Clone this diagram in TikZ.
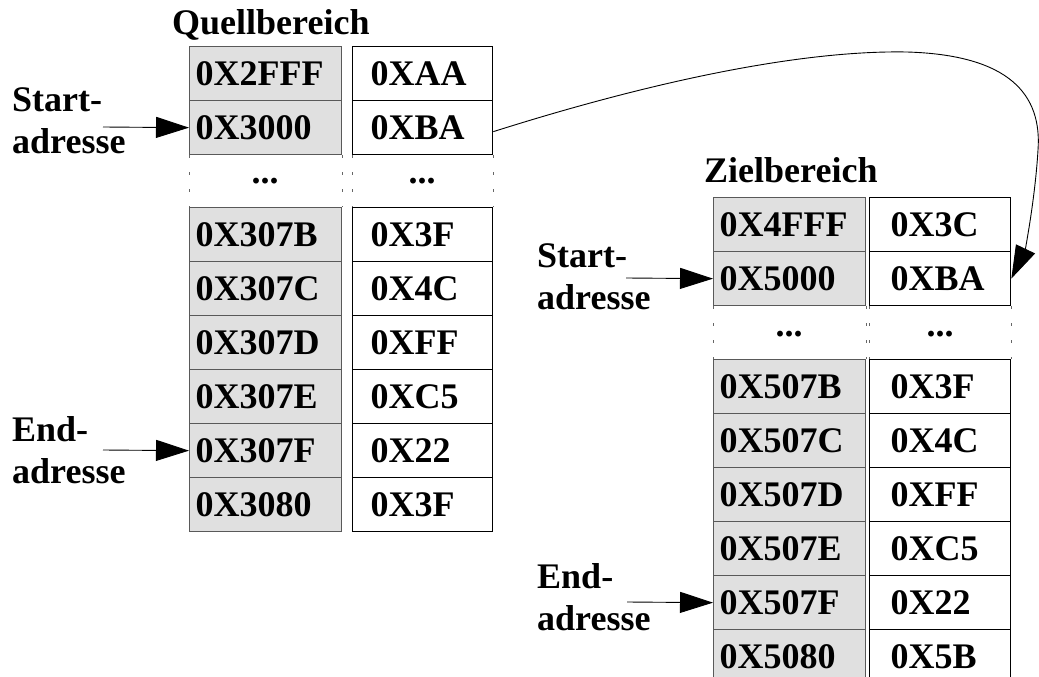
\documentclass[tikz,border=0pt]{standalone}
\usepackage{fontspec}
\newfontfamily\memfont{Liberation Serif}
\usetikzlibrary{arrows.meta}

\tikzset{
  adrcell/.style={draw=black!65, fill=black!12, line width=1.3pt, anchor=north west,
    minimum height=54pt, inner ysep=0pt, inner xsep=6pt, text width=140pt, align=left},
  valcell/.style 2 args={draw=black, line width=1.3pt, anchor=north west,
    minimum height=54pt, inner ysep=0pt, inner xsep=#1, text width=#2, align=left},
  gapline/.style={black!60, line width=1pt, dash pattern=on 3pt off 14pt},
  marker/.style={anchor=west, align=left, inner sep=0pt},
  pointer/.style={line width=0.9pt, -{Triangle[length=33pt,width=21pt]}},
}

\begin{document}
\begin{tikzpicture}[x=1pt, y=1pt, every node/.style={font=\memfont\bfseries\fontsize{36pt}{42pt}\selectfont}]
  \useasboundingbox (0,0) rectangle (1039,-677);
  \clip (0,0) rectangle (1039,-677);

  % Quellbereich
  \node[anchor=base west, inner sep=0pt] (qtitle) at (172,-35) {Quellbereich};
  \foreach \adr/\val [count=\i] in {0X2FFF/0XAA, 0X3000/0XBA} {
    \node[adrcell] (qa\i) at (189,{-46-54*(\i-1)}) {\adr};
    \node[valcell={18pt}{104pt}] (qv\i) at (352,{-46-54*(\i-1)}) {\val};
  }
  \foreach \adr/\val [count=\i from 3] in {0X307B/0X3F, 0X307C/0X4C, 0X307D/0XFF,
      0X307E/0XC5, 0X307F/0X22, 0X3080/0X3F} {
    \node[adrcell] (qa\i) at (189,{-207-54*(\i-3)}) {\adr};
    \node[valcell={18pt}{104pt}] (qv\i) at (352,{-207-54*(\i-3)}) {\val};
  }
  \node (qdots) at (265,-181) {...};
  \node (qvdots) at (422,-181) {...};
  \draw[gapline] (qa2.south west) -- (qa3.north west);
  \draw[gapline] (qa2.south east) -- (qa3.north east);
  \draw[gapline] (qv2.south west) -- (qv3.north west);
  \draw[gapline] (qv2.south east) -- (qv3.north east);

  % Zielbereich
  \node[anchor=base west, inner sep=0pt] (ztitle) at (704,-182) {Zielbereich};
  \foreach \adr/\val [count=\i] in {0X4FFF/0X3C, 0X5000/0XBA} {
    \node[adrcell] (za\i) at (713,{-197-54*(\i-1)}) {\adr};
    \node[valcell={21pt}{99pt}] (zv\i) at (869,{-197-54*(\i-1)}) {\val};
  }
  \foreach \adr/\val [count=\i from 3] in {0X507B/0X3F, 0X507C/0X4C, 0X507D/0XFF,
      0X507E/0XC5, 0X507F/0X22, 0X5080/0X5B} {
    \node[adrcell] (za\i) at (713,{-359-54*(\i-3)}) {\adr};
    \node[valcell={21pt}{99pt}] (zv\i) at (869,{-359-54*(\i-3)}) {\val};
  }
  \node (zdots) at (789,-334) {...};
  \node (zvdots) at (940,-334) {...};
  \draw[gapline] (za2.south west) -- (za3.north west);
  \draw[gapline] (za2.south east) -- (za3.north east);
  \draw[gapline] (zv2.south west) -- (zv3.north west);
  \draw[gapline] (zv2.south east) -- (zv3.north east);

  % Zeiger
  \node[marker] (qstart) at (12,-121) {Start-\\adresse};
  \node[marker] (qend) at (12,-450) {End-\\adresse};
  \node[marker] (zstart) at (537,-277) {Start-\\adresse};
  \node[marker] (zend) at (537,-597) {End-\\adresse};
  \coordinate (qs) at (103,-127);
  \coordinate (qe) at (103,-450);
  \coordinate (zs) at (626,-278);
  \coordinate (ze) at (627,-602);
  \draw[pointer] (qs) -- (qa2.west);
  \draw[pointer] (qe) -- (qa7.west);
  \draw[pointer] (zs) -- (za2.west);
  \draw[pointer] (ze) -- (za7.west);

  % Kopie
  \draw[pointer] ([yshift=-4pt]qv2.east) .. controls (650,-82) and (800,-50) .. (907,-52)
    .. controls (1010,-55) and (1042,-95) .. (1038,-150)
    .. controls (1035,-200) and (1025,-250) .. (zv2.east);
\end{tikzpicture}
\end{document}
